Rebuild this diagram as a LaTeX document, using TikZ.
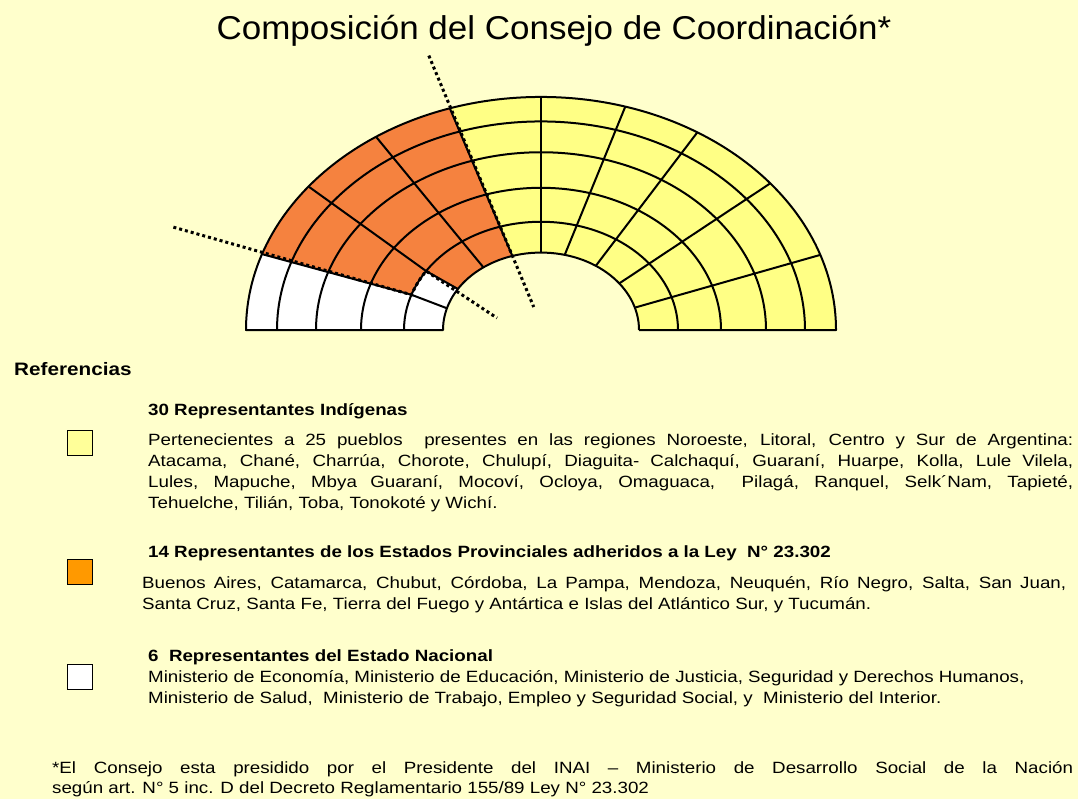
\documentclass[tikz,border=0pt]{standalone}
\usepackage{fontspec}
\setmainfont{Liberation Sans}[FakeStretch=1.15]
\newfontfamily\titlefont{Liberation Sans}[FakeStretch=1.06]
\definecolor{paper}{HTML}{FFFFCC}
\definecolor{seatyellow}{HTML}{FFFF85}
\definecolor{seatorange}{HTML}{F5823F}
\definecolor{keyyellow}{HTML}{FFFF99}
\definecolor{keyorange}{HTML}{FF9900}

\begin{document}
\begin{tikzpicture}[x=1pt, y=-1pt,
  seat/.style={line width=2pt, line join=round},
  split/.style={line width=3pt, dash pattern=on 3pt off 3pt},
  keybox/.style={draw, line width=1.2pt, minimum size=25pt, inner sep=0pt},
  body/.style={anchor=base west, inner sep=0pt, font=\fontsize{16.3}{21}\selectfont},
  head/.style={anchor=base west, inner sep=0pt, font=\fontsize{16.3}{21}\selectfont\bfseries}]

  % Background
  \useasboundingbox (0,0) rectangle (1078,799);
  \fill[paper] (0,0) rectangle (1078,799);

  % Title
  \node[anchor=base, inner sep=0pt, font=\titlefont\fontsize{33}{40}\selectfont] (title) at (554,40) {Composición del Consejo de Coordinación*};

  % Hemicycle
  \begin{scope}[shift={(541,330)}, yscale=-0.79]
    % Indigenous seats
    \fill[seatyellow] (0:98) -- (0:295) arc[start angle=0, end angle=108, radius=295] -- (107:98) arc[start angle=107, end angle=0, radius=98] -- cycle;
    % Provincial seats
    \fill[seatorange] (108:295) arc[start angle=108, end angle=161, radius=295] -- (161:137) arc[start angle=161, end angle=147, radius=137] -- (148:98) arc[start angle=148, end angle=107, radius=98] -- cycle;
    % National seats
    \fill[white] (161:295) arc[start angle=161, end angle=180, radius=295] -- (180:98) arc[start angle=180, end angle=148, radius=98] -- (147:137) arc[start angle=147, end angle=161, radius=137] -- cycle;

    % Rows
    \draw[seat] (0:137) arc[start angle=0, end angle=180, radius=137];
    \draw[seat] (0:180) arc[start angle=0, end angle=180, radius=180];
    \draw[seat] (0:225) arc[start angle=0, end angle=180, radius=225];
    \draw[seat] (0:264) arc[start angle=0, end angle=180, radius=264];

    % Seat dividers
    \draw[seat] (18.8:295) -- (16.8:98);
    \draw[seat] (39:295) -- (37:98);
    \draw[seat] (58:295) -- (56:98);
    \draw[seat] (73.4:295) -- (76:98);
    \draw[seat] (90:295) -- (90:98);
    \draw[seat] (108:295) -- (107:98);
    \draw[seat] (124:295) -- (126:98);
    \draw[seat] (142:295) -- (147:137) -- (148:98);
    \draw[seat] (161:295) -- (161:137) -- (163.7:98);

    % Outline
    \draw[seat] (0:98) -- (0:295) arc[start angle=0, end angle=180, radius=295] -- (180:98) arc[start angle=180, end angle=0, radius=98];

    % Group borders
    \draw[split] (107.9:365) -- (104:30);
    \draw[split] (160.5:390) -- (161:137) arc[start angle=161, end angle=147, radius=137] -- (161:46.5);
  \end{scope}

  % Key
  \node[head, font=\fontsize{18}{22}\selectfont\bfseries] (keytitle) at (14,375) {Referencias};

  \node[keybox, fill=keyyellow] (keyind) at (80,443) {};
  \node[head] (indhead) at (148,415) {30 Representantes Indígenas};
  \node[body] (ind1) at (148,445) {\makebox[925pt][s]{Pertenecientes a 25 pueblos\ \ presentes en las regiones Noroeste, Litoral, Centro y Sur de Argentina:}};
  \node[body] (ind2) at (148,466) {\makebox[925pt][s]{Atacama, Chané, Charrúa, Chorote, Chulupí, Diaguita- Calchaquí, Guaraní, Huarpe, Kolla, Lule Vilela,}};
  \node[body] (ind3) at (148,487) {\makebox[925pt][s]{Lules, Mapuche, Mbya Guaraní, Mocoví, Ocloya, Omaguaca,\ \ Pilagá, Ranquel, Selk´Nam, Tapieté,}};
  \node[body] (ind4) at (148,508) {Tehuelche, Tilián, Toba, Tonokoté y Wichí.};

  \node[keybox, fill=keyorange] (keyprov) at (80,572) {};
  \node[head] (provhead) at (148,557) {14 Representantes de los Estados Provinciales adheridos a la Ley\ \ N° 23.302};
  \node[body] (prov1) at (142,588) {\makebox[924pt][s]{Buenos Aires, Catamarca, Chubut, Córdoba, La Pampa, Mendoza, Neuquén, Río Negro, Salta, San Juan,}};
  \node[body] (prov2) at (142,609) {Santa Cruz, Santa Fe, Tierra del Fuego y Antártica e Islas del Atlántico Sur, y Tucumán.};

  \node[keybox, fill=white] (keynac) at (80,677) {};
  \node[head] (nachead) at (148,661) {6\ \ Representantes del Estado Nacional};
  \node[body] (nac1) at (148,682) {Ministerio de Economía, Ministerio de Educación, Ministerio de Justicia, Seguridad y Derechos Humanos,};
  \node[body] (nac2) at (148,703) {Ministerio de Salud,\ \ Ministerio de Trabajo, Empleo y Seguridad Social, y\ \ Ministerio del Interior.};

  % Footnote
  \node[body] (note1) at (52,773) {\makebox[1021pt][s]{*El Consejo esta presidido por el Presidente del INAI -- Ministerio de Desarrollo Social de la Nación}};
  \node[body] (note2) at (52,793) {según art. N° 5 inc. D del Decreto Reglamentario 155/89 Ley N° 23.302};
\end{tikzpicture}
\end{document}
